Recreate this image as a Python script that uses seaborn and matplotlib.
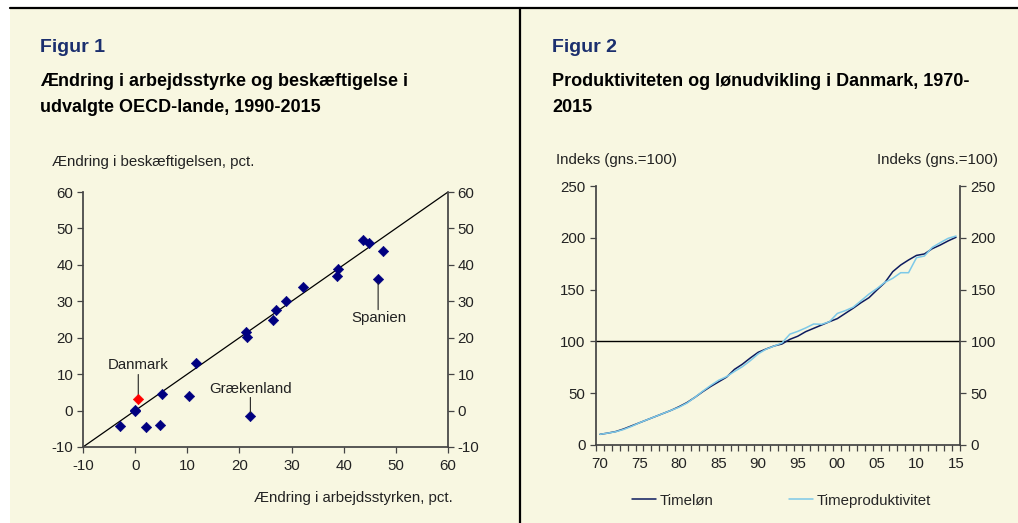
import numpy as np
import pandas as pd
import matplotlib
matplotlib.use("Agg")
import matplotlib.pyplot as plt
from matplotlib.patches import Rectangle
from matplotlib.lines import Line2D
from matplotlib.ticker import FixedLocator
import seaborn as sns

# --- Data: Figur 1 (change in labour force vs employment, pct.) ---
labour_force = [-3.0, 0.0, 0.0, 2.1, 4.8, 5.1, 10.3, 11.6, 22.1, 21.3, 21.5,
                26.5, 27.0, 28.9, 32.1, 38.7, 38.9, 43.7, 44.9, 47.5, 46.6]
employment = [-4.2, 0.0, 0.1, -4.5, -4.0, 4.5, 3.9, 13.1, -1.5, 21.6, 20.1,
              24.8, 27.7, 30.1, 33.8, 36.9, 39.0, 46.8, 46.0, 43.7, 36.0]
denmark_lf = [0.6]
denmark_emp = [3.1]

# --- Data: Figur 2 (index, average = 100) ---
years = list(range(1970, 2016))
timeloen = [10.3, 11.5, 13.0, 15.5, 18.5, 21.5, 24.5, 27.5, 30.5, 33.5,
            37.0, 41.0, 46.0, 51.5, 56.5, 61.0, 65.5, 73.0, 78.0, 84.0,
            89.5, 92.7, 95.6, 97.5, 102.0, 105.0, 109.4, 112.6, 115.8, 119.0,
            122.0, 127.0, 132.0, 137.4, 142.2, 149.6, 156.7, 167.3, 173.7, 178.6,
            183.0, 184.4, 189.5, 193.0, 197.0, 200.5]
timeprod = [10.3, 11.5, 12.8, 15.0, 18.0, 21.5, 24.5, 27.5, 30.5, 33.5,
            36.5, 40.5, 46.0, 52.0, 57.5, 62.5, 66.0, 71.0, 75.6, 81.4,
            88.0, 92.5, 95.5, 98.5, 107.0, 109.7, 113.0, 116.8, 116.5, 119.0,
            127.0, 129.7, 133.0, 139.3, 145.7, 151.0, 157.0, 160.9, 166.3, 166.3,
            180.8, 182.4, 190.8, 195.3, 199.5, 201.7]
year_labels = ["70", "75", "80", "85", "90", "95", "00", "05", "10", "15"]

BG = "#f8f7e1"
NAVY = "#000080"
DARK = "#0d1b5e"
LIGHT = "#7dc9e8"
HEAD = "#1b2f6e"
SPINE = "#444444"
TXT = "#222222"
FS = 10.8

sns.set_theme(style="ticks")
plt.rcParams["font.family"] = ["Liberation Sans", "DejaVu Sans"]
plt.rcParams["axes.unicode_minus"] = False
plt.rcParams["axes.edgecolor"] = SPINE
plt.rcParams["xtick.color"] = SPINE
plt.rcParams["ytick.color"] = SPINE
plt.rcParams["xtick.labelcolor"] = TXT
plt.rcParams["ytick.labelcolor"] = TXT

W, H = 1018, 523
fig = plt.figure(figsize=(W / 100, H / 100), dpi=100, facecolor="white")

def fx(px):
    return px / W

def fy(py):
    return 1 - py / H

# background panel and frame lines
fig.patches.append(Rectangle((fx(10), 0), 1 - fx(10), fy(8), transform=fig.transFigure,
                             facecolor=BG, edgecolor="none", zorder=-5))
fig.add_artist(Line2D([fx(10), 1], [fy(8), fy(8)], color="black", lw=1.6))
fig.add_artist(Line2D([fx(520), fx(520)], [0, fy(8)], color="black", lw=1.6))

# headings
fig.text(fx(40), fy(47), "Figur 1", fontsize=14, fontweight="bold", color=HEAD, va="center")
fig.text(fx(40), fy(81), "Ændring i arbejdsstyrke og beskæftigelse i", fontsize=13,
         fontweight="bold", color="black", va="center")
fig.text(fx(40), fy(107), "udvalgte OECD-lande, 1990-2015", fontsize=13,
         fontweight="bold", color="black", va="center")
fig.text(fx(552), fy(47), "Figur 2", fontsize=14, fontweight="bold", color=HEAD, va="center")
fig.text(fx(552), fy(81), "Produktiviteten og lønudvikling i Danmark, 1970-", fontsize=13,
         fontweight="bold", color="black", va="center")
fig.text(fx(552), fy(107), "2015", fontsize=13, fontweight="bold", color="black", va="center")

# ---------------- Figur 1 ----------------
ax1 = fig.add_axes([fx(83), fy(447), fx(448) - fx(83), fy(192) - fy(447)])
ax1.set_facecolor("none")
ax1.plot([-10, 60], [-10, 60], color="black", lw=0.9, zorder=1)
sns.scatterplot(x=labour_force, y=employment, ax=ax1, marker="D", s=28,
                color=NAVY, edgecolor=NAVY, zorder=3)
sns.scatterplot(x=denmark_lf, y=denmark_emp, ax=ax1, marker="D", s=28,
                color="#ff0000", edgecolor="#ff0000", zorder=4)
ax1.set_xlim(-10, 60)
ax1.set_ylim(-10, 60)
ax1.set_xticks(range(-10, 61, 10))
ax1.set_yticks(range(-10, 61, 10))
ax1.spines["top"].set_visible(False)
ax1.tick_params(axis="both", direction="out", length=4, width=0.9, labelsize=FS, pad=3)
ax1.tick_params(axis="x", pad=5)
ax1.tick_params(axis="y", right=True, labelright=True)
ax1.set_xlabel("")
ax1.set_ylabel("")

ann = dict(ha="center", va="center", fontsize=FS, color=TXT)
arr = dict(arrowstyle="-", color=TXT, lw=0.8, shrinkA=0, shrinkB=0)
ax1.annotate("Danmark", xy=(0.6, 12.5), **ann)
ax1.annotate("", xy=(0.6, 3.9), xytext=(0.6, 9.9), arrowprops=arr)
ax1.annotate("Grækenland", xy=(22.1, 6.0), **ann)
ax1.annotate("", xy=(22.1, -0.6), xytext=(22.1, 3.6), arrowprops=arr)
ax1.annotate("Spanien", xy=(46.8, 25.3), **ann)
ax1.annotate("", xy=(46.6, 35.0), xytext=(46.6, 27.7), arrowprops=arr)

fig.text(fx(52), fy(162), "Ændring i beskæftigelsen, pct.", fontsize=FS,
         color=TXT, va="center")
fig.text(fx(453), fy(498), "Ændring i arbejdsstyrken, pct.", fontsize=FS,
         color=TXT, va="center", ha="right")

# ---------------- Figur 2 ----------------
df = pd.DataFrame({"year": years, "Timeløn": timeloen, "Timeproduktivitet": timeprod})
long = df.melt(id_vars="year", var_name="serie", value_name="indeks")
ax2 = fig.add_axes([fx(596), fy(445), fx(960) - fx(596), fy(186) - fy(445)])
ax2.set_facecolor("none")
ax2.axhline(100, color="black", lw=1.0, zorder=1)
sns.lineplot(data=long, x="year", y="indeks", hue="serie", ax=ax2,
             palette={"Timeløn": DARK, "Timeproduktivitet": LIGHT}, lw=1.1, zorder=3)
ax2.set_xlim(1969.5, 2015.5)
ax2.set_ylim(0, 250)
ax2.set_yticks(range(0, 251, 50))
ax2.set_xticks(range(1970, 2016, 5))
ax2.set_xticklabels(year_labels)
ax2.xaxis.set_minor_locator(FixedLocator(np.arange(1969.5, 2016, 1.0)))
ax2.spines["top"].set_visible(False)
ax2.tick_params(axis="x", which="major", length=0, labelsize=FS, pad=9)
ax2.tick_params(axis="x", which="minor", direction="out", length=4, width=0.9)
ax2.tick_params(axis="y", direction="out", length=4, width=0.9, labelsize=FS,
                right=True, labelright=True)
ax2.set_xlabel("")
ax2.set_ylabel("")
handles, labels = ax2.get_legend_handles_labels()
ax2.legend(handles, labels, loc="center", bbox_to_anchor=(0.51, -0.215), ncol=2,
           frameon=False, fontsize=FS, handlelength=1.6, handletextpad=0.25,
           columnspacing=5.0)

fig.text(fx(556), fy(160), "Indeks (gns.=100)", fontsize=FS, color=TXT, va="center")
fig.text(fx(998), fy(160), "Indeks (gns.=100)", fontsize=FS, color=TXT,
         va="center", ha="right")

fig.savefig("out.png", dpi=100, facecolor="white")
